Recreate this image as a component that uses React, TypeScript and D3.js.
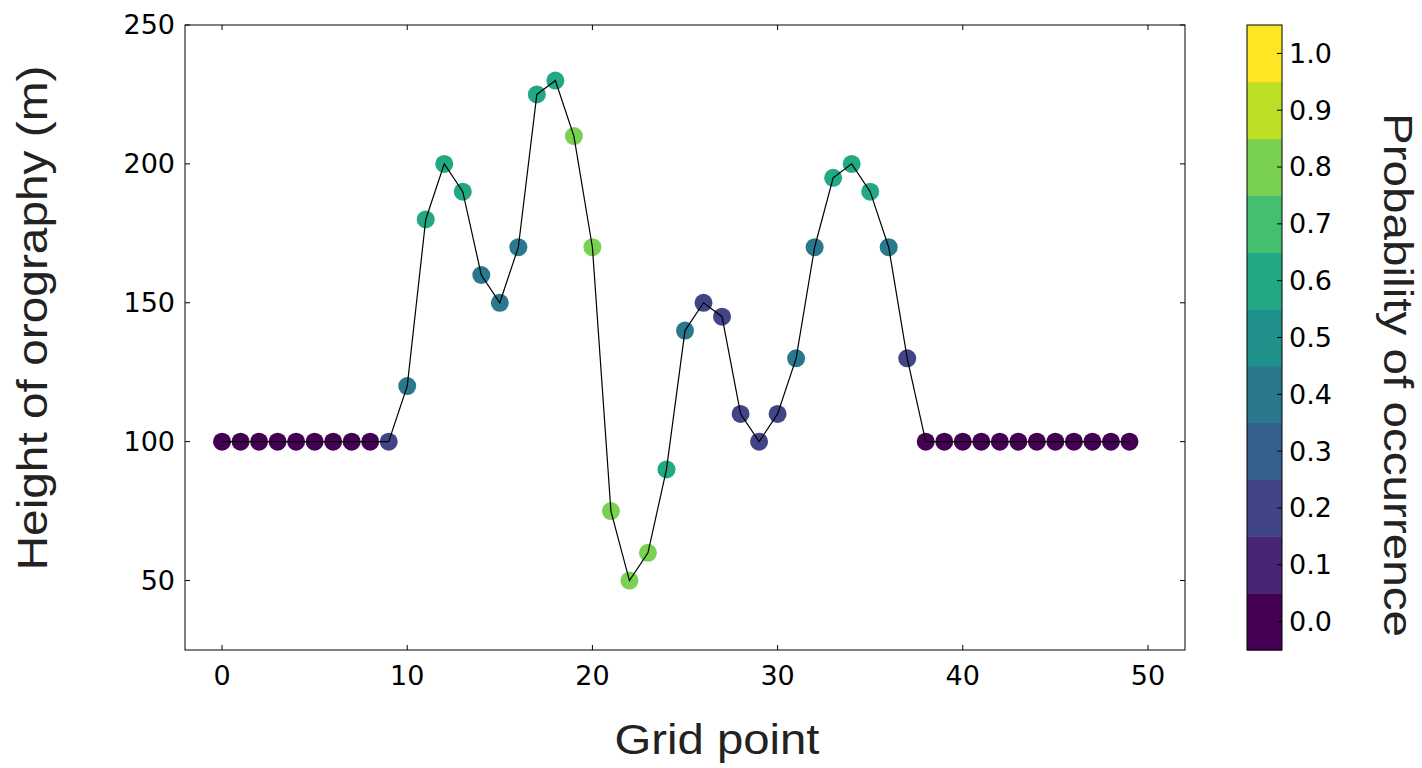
import React, { useRef, useEffect } from 'react';
import * as d3 from 'd3';

// Orography height (m) at each grid point
const gridPoints = d3.range(0, 50);
const heights = [
  100, 100, 100, 100, 100, 100, 100, 100, 100, 100,
  120, 180, 200, 190, 160, 150, 170, 225, 230, 210,
  170, 75, 50, 60, 90, 140, 150, 145, 110, 100,
  110, 130, 170, 195, 200, 190, 170, 130, 100, 100,
  100, 100, 100, 100, 100, 100, 100, 100, 100, 100,
];
// Probability of occurrence at each grid point
const probs = [
  0, 0, 0, 0, 0, 0, 0, 0, 0, 0.2,
  0.4, 0.6, 0.6, 0.6, 0.4, 0.4, 0.4, 0.6, 0.6, 0.8,
  0.8, 0.8, 0.8, 0.8, 0.6, 0.4, 0.2, 0.2, 0.2, 0.2,
  0.2, 0.4, 0.4, 0.6, 0.6, 0.6, 0.4, 0.2, 0, 0,
  0, 0, 0, 0, 0, 0, 0, 0, 0, 0,
];
const xTicks = [0, 10, 20, 30, 40, 50];
const yTicks = [50, 100, 150, 200, 250];
const cbarLevels = d3.range(0, 11).map(i => i / 10);

const App = () => {
  const ref = useRef<SVGSVGElement | null>(null);

  useEffect(() => {
    const svg = d3.select(ref.current);
    svg.selectAll('*').remove();

    const left = 185, right = 1185, top = 25, bottom = 650;
    const x = d3.scaleLinear().domain([-2, 52]).range([left, right]);
    const y = d3.scaleLinear().domain([25, 250]).range([bottom, top]);
    const color = (p: number) => d3.interpolateViridis(Math.round(p * 10) / 10);

    const tickFont = 'DejaVu Sans, sans-serif';
    const labelFont = 'Liberation Sans, Arial, sans-serif';

    const line = d3.line<number>().x((d, i) => x(gridPoints[i])).y(d => y(d));

    // points
    svg.selectAll('circle.pt')
      .data(heights)
      .enter().append('circle')
      .attr('class', 'pt')
      .attr('cx', (d, i) => x(gridPoints[i]))
      .attr('cy', d => y(d))
      .attr('r', 9)
      .attr('fill', (d, i) => color(probs[i]));

    // line over the scatter
    svg.append('path')
      .attr('d', line(heights))
      .attr('fill', 'none')
      .attr('stroke', '#000')
      .attr('stroke-width', 1.2);

    // frame
    svg.append('rect')
      .attr('x', left).attr('y', top)
      .attr('width', right - left).attr('height', bottom - top)
      .attr('fill', 'none').attr('stroke', '#000').attr('stroke-width', 1);

    // ticks (inward, all four sides)
    const tl = 5;
    xTicks.forEach(t => {
      svg.append('line').attr('x1', x(t)).attr('x2', x(t)).attr('y1', bottom).attr('y2', bottom - tl).attr('stroke', '#000');
      svg.append('line').attr('x1', x(t)).attr('x2', x(t)).attr('y1', top).attr('y2', top + tl).attr('stroke', '#000');
      svg.append('text').attr('x', x(t)).attr('y', bottom + 35)
        .attr('text-anchor', 'middle').attr('font-family', tickFont).attr('font-size', 27)
        .text(t);
    });
    yTicks.forEach(t => {
      svg.append('line').attr('x1', left).attr('x2', left + tl).attr('y1', y(t)).attr('y2', y(t)).attr('stroke', '#000');
      svg.append('line').attr('x1', right).attr('x2', right - tl).attr('y1', y(t)).attr('y2', y(t)).attr('stroke', '#000');
      svg.append('text').attr('x', left - 10).attr('y', y(t)).attr('dy', '0.35em')
        .attr('text-anchor', 'end').attr('font-family', tickFont).attr('font-size', 27)
        .text(t);
    });

    // axis labels
    svg.append('text').attr('x', 717).attr('y', 754)
      .attr('text-anchor', 'middle').attr('font-family', labelFont).attr('font-size', 43)
      .attr('textLength', 205).attr('lengthAdjust', 'spacingAndGlyphs')
      .attr('fill', '#222').text('Grid point');
    svg.append('text')
      .attr('transform', `translate(47, 318) rotate(-90)`)
      .attr('text-anchor', 'middle').attr('font-family', labelFont).attr('font-size', 43)
      .attr('textLength', 505).attr('lengthAdjust', 'spacingAndGlyphs')
      .attr('fill', '#222').text('Height of orography (m)');

    // colorbar
    const cbL = 1247, cbR = 1282;
    const cy = d3.scaleLinear().domain([-0.05, 1.05]).range([bottom, top]);
    cbarLevels.forEach(v => {
      svg.append('rect')
        .attr('x', cbL).attr('width', cbR - cbL)
        .attr('y', cy(v + 0.05)).attr('height', cy(v - 0.05) - cy(v + 0.05) + 0.5)
        .attr('fill', d3.interpolateViridis(v));
      svg.append('line').attr('x1', cbR).attr('x2', cbR - 5).attr('y1', cy(v)).attr('y2', cy(v)).attr('stroke', '#000');
      svg.append('text').attr('x', cbR + 7).attr('y', cy(v)).attr('dy', '0.35em')
        .attr('font-family', tickFont).attr('font-size', 27).text(v.toFixed(1));
    });
    svg.append('rect')
      .attr('x', cbL).attr('y', top).attr('width', cbR - cbL).attr('height', bottom - top)
      .attr('fill', 'none').attr('stroke', '#000');
    svg.append('text')
      .attr('transform', `translate(1384, 375) rotate(90)`)
      .attr('text-anchor', 'middle').attr('font-family', labelFont).attr('font-size', 41)
      .attr('textLength', 524).attr('lengthAdjust', 'spacingAndGlyphs')
      .attr('fill', '#222').text('Probability of occurrence');
  }, []);

  return (
    <svg ref={ref} width={1422} height={768}
      style={{ position: 'absolute', left: 0, top: 0, background: '#fff' }} />
  );
};

export default App;
